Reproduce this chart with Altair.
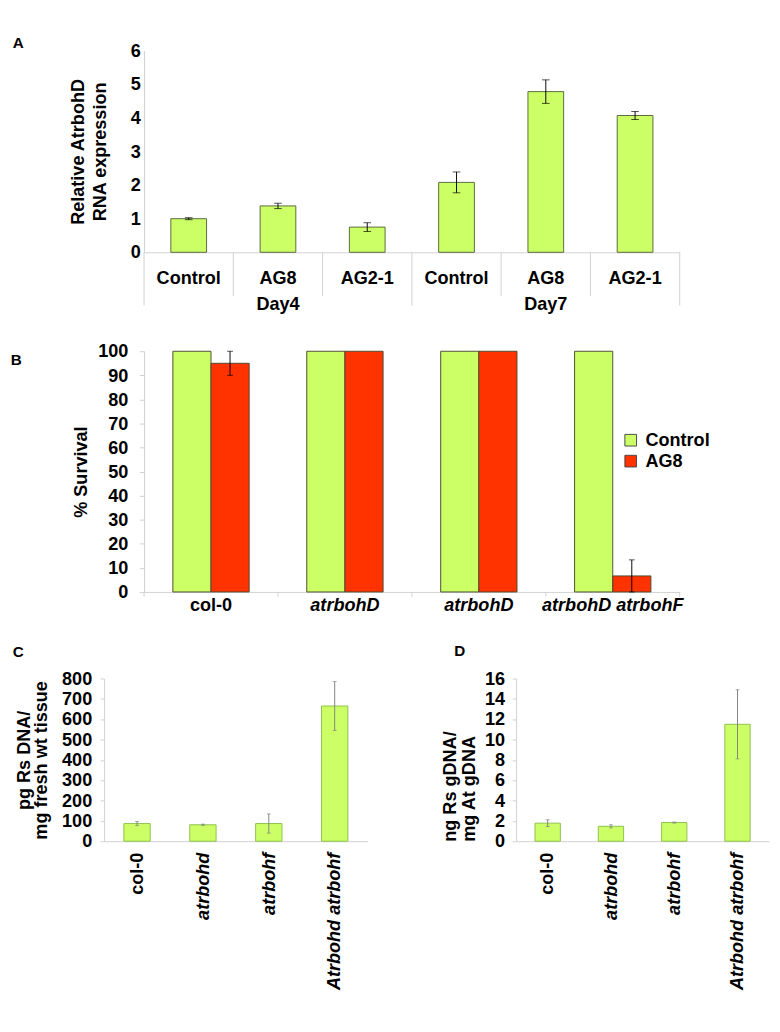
import altair as alt
import pandas as pd

FONT = "Liberation Sans"
GREEN = "#CCFF66"
RED = "#FF3300"
AXIS_GREY = "#d0d0d0"
ZW = "\u200b"  # zero-width space keeps repeated category names distinct

# ---------------- data ----------------
# Panel A
a_conditions = ["Control", "AG8", "AG2-1", "Control" + ZW, "AG8" + ZW, "AG2-1" + ZW]
a_day_labels = ["Day4", "Day7"]
a_day_anchor = ["AG8", "AG8" + ZW]
a_values = [1.00, 1.38, 0.75, 2.08, 4.78, 4.07]
a_errors = [0.03, 0.08, 0.13, 0.31, 0.35, 0.12]
a_ticks = [0, 1, 2, 3, 4, 5, 6]

# Panel B
b_keys = ["col-0", "atrbohD", "atrbohD" + ZW, "atrbohD atrbohF"]
b_labels = ["col-0", "atrbohD", "atrbohD", "atrbohD atrbohF"]
b_series = ["Control", "AG8"]
b_control = [100, 100, 100, 100]
b_ag8 = [95, 100, 100, 6.67]
b_ag8_err = [5, 0, 0, 6.67]
b_ticks = [0, 10, 20, 30, 40, 50, 60, 70, 80, 90, 100]

# Panels C and D
cd_genotypes = ["col-0", "atrbohd", "atrbohf", "Atrbohd atrbohf"]
c_values = [87, 81, 87, 665]
c_errors = [10, 3, 47, 120]
c_ticks = [0, 100, 200, 300, 400, 500, 600, 700, 800]
d_values = [1.78, 1.47, 1.84, 11.5]
d_errors = [0.33, 0.15, 0.05, 3.4]
d_ticks = [0, 2, 4, 6, 8, 10, 12, 14, 16]


def letter_layer(letter, dx, dy):
    return alt.Chart(pd.DataFrame({"t": [letter]})).mark_text(
        align="left", baseline="alphabetic", font=FONT, fontSize=16, fontWeight="bold",
        color="black").encode(text="t:N", x=alt.value(dx), y=alt.value(dy))


def y_axis(values, title, size, **kw):
    return alt.Axis(values=values, title=title, grid=False, domainColor=AXIS_GREY,
                    tickColor=AXIS_GREY, labelFont=FONT, labelFontSize=size,
                    labelFontWeight="bold", labelColor="black", titleFont=FONT,
                    titleFontSize=size, titleFontWeight="bold", titleColor="black", **kw)


def x_axis_nolabels():
    return alt.Axis(title=None, labels=False, ticks=False, tickSize=0,
                    domainColor=AXIS_GREY)


# ---------------- Panel A ----------------
AW, AH = 563, 212
A_HALF_STEP = AW / len(a_conditions) / 2
dfa = pd.DataFrame({"key": a_conditions, "value": a_values, "err": a_errors})
dfa["lo"] = dfa["value"] - dfa["err"]
dfa["hi"] = dfa["value"] + dfa["err"]

xa_scale = alt.Scale(domain=a_conditions, paddingInner=0.6, paddingOuter=0.3)
ya_scale = alt.Scale(domain=[0, 6], nice=False)
xa_axis = alt.Axis(title=None, labelAngle=0, labelFont=FONT, labelFontSize=19,
                   labelFontWeight="bold", labelColor="black", labelPadding=18,
                   ticks=False, tickSize=0, domainColor=AXIS_GREY)
ya_axis = y_axis(a_ticks, ["Relative AtrbohD", "RNA expression"], 19, ticks=False,
                 tickSize=0, labelPadding=4, titlePadding=22, titleLineHeight=23)

xa = alt.X("key:N", scale=xa_scale, axis=xa_axis)
a_base = alt.Chart(dfa)
a_bars = a_base.mark_bar(fill=GREEN, stroke="#55653a", strokeWidth=1).encode(
    x=xa, y=alt.Y("value:Q", scale=ya_scale, axis=ya_axis))
a_rule = a_base.mark_rule(color="black", strokeWidth=1).encode(
    x=xa, y=alt.Y("lo:Q", scale=ya_scale, axis=ya_axis), y2="hi:Q")
a_cap_lo = a_base.mark_tick(color="black", size=8, thickness=1, orient="horizontal").encode(
    x=xa, y=alt.Y("lo:Q", scale=ya_scale, axis=ya_axis))
a_cap_hi = a_base.mark_tick(color="black", size=8, thickness=1, orient="horizontal").encode(
    x=xa, y=alt.Y("hi:Q", scale=ya_scale, axis=ya_axis))
dfdays = pd.DataFrame({"key": a_day_anchor, "day": a_day_labels})
a_days = alt.Chart(dfdays).mark_text(
    baseline="top", font=FONT, fontSize=19, fontWeight="bold", color="black").encode(
    x=xa, text="day:N", y=alt.value(AH + 46))

# separator lines below the category axis (at band boundaries)
sep_short = pd.DataFrame({"key": [a_conditions[i] for i in (1, 2, 4, 5)]})
sep_long_start = pd.DataFrame({"key": [a_conditions[0], a_conditions[3]]})
sep_long_end = pd.DataFrame({"key": [a_conditions[5]]})
a_sep1 = alt.Chart(sep_short).mark_rule(color=AXIS_GREY, xOffset=-A_HALF_STEP).encode(
    x=xa, y=alt.value(AH), y2=alt.value(AH + 46))
a_sep2 = alt.Chart(sep_long_start).mark_rule(color=AXIS_GREY, xOffset=-A_HALF_STEP).encode(
    x=xa, y=alt.value(AH), y2=alt.value(AH + 56))
a_sep3 = alt.Chart(sep_long_end).mark_rule(color=AXIS_GREY, xOffset=A_HALF_STEP).encode(
    x=xa, y=alt.value(AH), y2=alt.value(AH + 56))

chart_a = alt.layer(a_bars, a_rule, a_cap_lo, a_cap_hi, a_days, a_sep1, a_sep2, a_sep3,
                    letter_layer("A", -138, -3)).properties(width=AW, height=AH)

# ---------------- Panel B ----------------
BW, BH = 563, 253
B_HALF_STEP = BW / len(b_keys) / 2
dfb = pd.DataFrame({
    "key": b_keys * 2,
    "series": [b_series[0]] * len(b_keys) + [b_series[1]] * len(b_keys),
    "value": b_control + b_ag8,
})
dfb_err = pd.DataFrame({"key": b_keys, "value": b_ag8, "err": b_ag8_err})
dfb_err["lo"] = dfb_err["value"] - dfb_err["err"]
dfb_err["hi"] = dfb_err["value"] + dfb_err["err"]
dfb_err = dfb_err[dfb_err["err"] > 0]
dfb_lab = pd.DataFrame({"key": b_keys, "label": b_labels})

xb_scale = alt.Scale(domain=b_keys, paddingInner=0.43, paddingOuter=0.215)
yb_scale = alt.Scale(domain=[0, 100], nice=False)
yb_axis = y_axis(b_ticks, "% Survival", 19, tickSize=5, labelPadding=12, titlePadding=8)
xb = alt.X("key:N", scale=xb_scale, axis=x_axis_nolabels())
b_bars = alt.Chart(dfb).mark_bar(stroke="#4a4a30", strokeWidth=1).encode(
    x=xb,
    xOffset=alt.XOffset("series:N", sort=b_series),
    y=alt.Y("value:Q", scale=yb_scale, axis=yb_axis),
    fill=alt.Fill("series:N", sort=b_series,
                  scale=alt.Scale(domain=b_series, range=[GREEN, RED]),
                  legend=alt.Legend(title=None, orient="none", legendX=502, legendY=84,
                                    labelFont=FONT, labelFontSize=19,
                                    labelFontWeight="bold", labelColor="black",
                                    symbolType="square", symbolSize=150,
                                    symbolStrokeColor="#444444", symbolStrokeWidth=1,
                                    labelOffset=6)))
b_err_base = alt.Chart(dfb_err)
b_rule = b_err_base.mark_rule(color="black", strokeWidth=1, xOffset=20).encode(
    x=xb, y=alt.Y("lo:Q", scale=yb_scale, axis=yb_axis), y2="hi:Q")
b_cap_lo = b_err_base.mark_tick(color="black", size=6, thickness=1, orient="horizontal",
                                xOffset=20).encode(
    x=xb, y=alt.Y("lo:Q", scale=yb_scale, axis=yb_axis))
b_cap_hi = b_err_base.mark_tick(color="black", size=6, thickness=1, orient="horizontal",
                                xOffset=20).encode(
    x=xb, y=alt.Y("hi:Q", scale=yb_scale, axis=yb_axis))
b_lab_style = dict(baseline="top", font=FONT, fontSize=19, fontWeight="bold", color="black")
b_lab_normal = alt.Chart(dfb_lab[dfb_lab["label"] == "col-0"]).mark_text(
    fontStyle="normal", **b_lab_style).encode(x=xb, text="label:N", y=alt.value(BH + 5))
b_lab_italic = alt.Chart(dfb_lab[dfb_lab["label"] != "col-0"]).mark_text(
    fontStyle="italic", **b_lab_style).encode(x=xb, text="label:N", y=alt.value(BH + 5))
b_sep = alt.Chart(dfb_lab).mark_rule(color=AXIS_GREY, xOffset=-B_HALF_STEP).encode(
    x=xb, y=alt.value(BH), y2=alt.value(BH + 5))
b_sep_end = alt.Chart(dfb_lab.tail(1)).mark_rule(color=AXIS_GREY, xOffset=B_HALF_STEP).encode(
    x=xb, y=alt.value(BH), y2=alt.value(BH + 5))

chart_b = alt.layer(b_bars, b_rule, b_cap_lo, b_cap_hi, b_lab_normal, b_lab_italic,
                    b_sep, b_sep_end,
                    letter_layer("B", -140, 14)).properties(width=BW, height=BH)


# ---------------- Panels C and D ----------------
def small_panel(values, errors, ticks, ymax, title_lines, width, left_shift, letter,
                letter_dx, letter_dy, **title_kw):
    df = pd.DataFrame({"geno": cd_genotypes, "value": values, "err": errors})
    df["lo"] = df["value"] - df["err"]
    df["hi"] = df["value"] + df["err"]
    xs = alt.Scale(domain=cd_genotypes, range=[-left_shift, width], paddingInner=0.6,
                   paddingOuter=0.3)
    ys = alt.Scale(domain=[0, ymax], nice=False)
    yax = y_axis(ticks, title_lines, 19, tickSize=4, offset=left_shift, **title_kw)
    x = alt.X("geno:N", scale=xs, axis=x_axis_nolabels())
    base = alt.Chart(df)
    bars = base.mark_bar(fill=GREEN, stroke="#8cbf4a", strokeWidth=1).encode(
        x=x, y=alt.Y("value:Q", scale=ys, axis=yax))
    rule = base.mark_rule(color="#808080", strokeWidth=1).encode(
        x=x, y=alt.Y("lo:Q", scale=ys, axis=yax), y2="hi:Q")
    cap_lo = base.mark_tick(color="#808080", size=4, thickness=1, orient="horizontal").encode(
        x=x, y=alt.Y("lo:Q", scale=ys, axis=yax))
    cap_hi = base.mark_tick(color="#808080", size=4, thickness=1, orient="horizontal").encode(
        x=x, y=alt.Y("hi:Q", scale=ys, axis=yax))
    lab_style = dict(angle=270, align="right", baseline="middle", font=FONT, fontSize=19,
                     fontWeight="bold", color="black")
    lab_normal = alt.Chart(df[df["geno"] == "col-0"]).mark_text(
        fontStyle="normal", **lab_style).encode(x=x, text="geno:N", y=alt.value(171 + 12))
    lab_italic = alt.Chart(df[df["geno"] != "col-0"]).mark_text(
        fontStyle="italic", **lab_style).encode(x=x, text="geno:N", y=alt.value(171 + 12))
    return alt.layer(bars, rule, cap_lo, cap_hi, lab_normal, lab_italic,
                     letter_layer(letter, letter_dx, letter_dy)).properties(
        width=width, height=171)


chart_c = small_panel(c_values, c_errors, c_ticks, 800, ["pg Rs DNA/", "mg fresh wt tissue"],
                      235, 42, "C", -138, -23, labelPadding=9, titlePadding=12,
                      titleLineHeight=18)
chart_d = small_panel(d_values, d_errors, d_ticks, 16, ["ng Rs gDNA/", "mg At gDNA"],
                      266, 0, "D", -65, -24, labelPadding=8, titlePadding=6,
                      titleLineHeight=21, titleAnchor="start")

row3 = alt.hconcat(chart_c, chart_d, spacing=34)
top = alt.vconcat(chart_a, chart_b, spacing=30).resolve_scale(fill="independent")

chart = alt.vconcat(top, row3, spacing=30).resolve_scale(fill="independent").configure_view(
    strokeWidth=0).properties(padding=3)

chart.save("out.html", embed_options={"renderer": "svg", "actions": False})
